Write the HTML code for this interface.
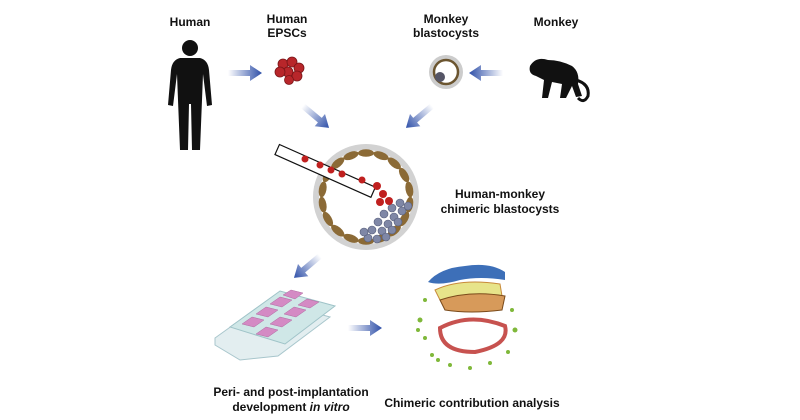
<!DOCTYPE html>
<html><head><style>
body{margin:0;width:800px;height:420px;background:#fff;overflow:hidden;font-family:"Liberation Sans",sans-serif}
svg{position:absolute;left:0;top:0}
text{font-family:"Liberation Sans",sans-serif;font-weight:bold;font-size:12px;fill:#111}
</style></head><body>
<svg width="800" height="420" viewBox="0 0 800 420">
<defs>
<linearGradient id="ga" x1="0" x2="1"><stop offset="0" stop-color="#fff"/><stop offset="1" stop-color="#2e4fa8"/></linearGradient>
<g id="arr"><path d="M0,-3 L22,-3 L22,-8 L34,0 L22,8 L22,3 L0,3Z" fill="url(#ga)"/></g>
</defs>
<text x="190" y="26" text-anchor="middle">Human</text>
<text x="287" y="23" text-anchor="middle">Human</text>
<text x="287" y="37" text-anchor="middle">EPSCs</text>
<text x="446" y="23" text-anchor="middle">Monkey</text>
<text x="446" y="37" text-anchor="middle">blastocysts</text>
<text x="556" y="26" text-anchor="middle">Monkey</text>
<text x="500" y="198" text-anchor="middle">Human-monkey</text>
<text x="500" y="213" text-anchor="middle">chimeric blastocysts</text>
<text x="291" y="396" text-anchor="middle">Peri- and post-implantation</text>
<text x="291" y="411" text-anchor="middle">development <tspan font-style="italic">in vitro</tspan></text>
<text x="472" y="407" text-anchor="middle">Chimeric contribution analysis</text>
<g fill="#111">
<circle cx="190" cy="48" r="8"/>
<path d="M180,58 L200,58 Q208,60 209,70 L212,105 L207,106 L203,74 L202,100 L200,150 L192,150 L191,104 L189,104 L188,150 L180,150 L178,100 L177,74 L173,106 L168,105 L171,70 Q172,60 180,58Z"/>
</g>
<g fill="#b8262a" stroke="#7a1518" stroke-width="0.8">
<circle cx="283" cy="64" r="5"/><circle cx="292" cy="62" r="5"/><circle cx="299" cy="68" r="5"/><circle cx="288" cy="72" r="5"/><circle cx="280" cy="72" r="5"/><circle cx="297" cy="76" r="5"/><circle cx="289" cy="80" r="4.5"/>
</g>
<circle cx="446" cy="72" r="17" fill="#ccc"/>
<circle cx="446" cy="72" r="12" fill="#fff" stroke="#6b5530" stroke-width="2.5"/>
<circle cx="440" cy="77" r="5" fill="#556"/>
<g fill="#111">
<path d="M530,66 Q536,56 548,60 Q560,60 572,66 Q580,72 578,84 L582,96 L576,97 L572,86 L566,98 L560,98 L562,84 L552,82 L548,98 L542,98 L544,80 L536,76 Q528,74 530,66Z"/>
<path d="M576,80 Q590,84 588,96 Q584,104 578,98" fill="none" stroke="#111" stroke-width="3"/>
</g>
<use href="#arr" transform="translate(228,73)"/>
<use href="#arr" transform="translate(503,73) rotate(180)"/>
<use href="#arr" transform="translate(303,106) rotate(40)"/>
<use href="#arr" transform="translate(432,106) rotate(140)"/>
<use href="#arr" transform="translate(320,256) rotate(140)"/>
<use href="#arr" transform="translate(348,328)"/>
<circle cx="366" cy="197" r="53" fill="#d2d2d2"/>
<circle cx="366" cy="197" r="47" fill="#fff"/>
<g fill="#8b6a36">
<g id="ring"><ellipse cx="366" cy="153" rx="8" ry="3.8"/></g>
<use href="#ring" transform="rotate(20 366 197)"/><use href="#ring" transform="rotate(40 366 197)"/><use href="#ring" transform="rotate(60 366 197)"/><use href="#ring" transform="rotate(80 366 197)"/><use href="#ring" transform="rotate(100 366 197)"/><use href="#ring" transform="rotate(120 366 197)"/><use href="#ring" transform="rotate(140 366 197)"/><use href="#ring" transform="rotate(160 366 197)"/><use href="#ring" transform="rotate(180 366 197)"/><use href="#ring" transform="rotate(200 366 197)"/><use href="#ring" transform="rotate(220 366 197)"/><use href="#ring" transform="rotate(240 366 197)"/><use href="#ring" transform="rotate(260 366 197)"/><use href="#ring" transform="rotate(280 366 197)"/><use href="#ring" transform="rotate(300 366 197)"/><use href="#ring" transform="rotate(320 366 197)"/><use href="#ring" transform="rotate(340 366 197)"/>
</g>
<g fill="#7f87a6" stroke="#555c78" stroke-width="0.6">
<circle cx="400" cy="203" r="4"/><circle cx="392" cy="208" r="4"/><circle cx="402" cy="211" r="4"/><circle cx="384" cy="214" r="4"/><circle cx="394" cy="217" r="4"/><circle cx="378" cy="222" r="4"/><circle cx="388" cy="224" r="4"/><circle cx="398" cy="222" r="4"/><circle cx="372" cy="230" r="4"/><circle cx="382" cy="231" r="4"/><circle cx="392" cy="230" r="4"/><circle cx="368" cy="238" r="4"/><circle cx="377" cy="239" r="4"/><circle cx="386" cy="237" r="4"/><circle cx="408" cy="206" r="4"/><circle cx="364" cy="232" r="4"/>
</g>
<g transform="rotate(24 277 150)">
<rect x="277" y="144" width="105" height="11" fill="#fff" stroke="#111" stroke-width="1.2"/>
</g>
<g fill="#c0201f">
<circle cx="305" cy="159" r="3.5"/><circle cx="320" cy="165" r="3.5"/><circle cx="331" cy="170" r="3.5"/><circle cx="342" cy="174" r="3.5"/><circle cx="362" cy="180" r="3.5"/>
<circle cx="377" cy="186" r="4"/><circle cx="383" cy="194" r="4"/><circle cx="380" cy="202" r="4"/><circle cx="389" cy="201" r="4"/>
</g>
<polygon points="215,338 268,300 330,317 278,356 240,360 215,345" fill="#e3eef0" stroke="#a8c6cc"/>
<polygon points="230,327 280,291 335,306 285,344" fill="#cfe7e7" stroke="#9fc3c8"/>
<g fill="#d48ac4" stroke="#b06aa0" stroke-width="0.5">
<polygon points="242,324 252,317 264,320 254,327"/><polygon points="256,314 266,307 278,310 268,317"/><polygon points="270,304 280,297 292,300 282,307"/><polygon points="283,295 291,290 303,293 295,299"/>
<polygon points="256,334 266,327 278,330 268,337"/><polygon points="270,324 280,317 292,320 282,327"/><polygon points="284,314 294,307 306,310 296,317"/><polygon points="298,305 307,299 319,302 310,308"/>
</g>
<path d="M428,282 Q440,268 465,266 Q490,262 505,272 L505,280 Q480,276 460,280 Q440,286 428,282Z" fill="#3d6fb8"/>
<path d="M435,290 Q460,278 500,284 L502,296 Q470,300 440,300Z" fill="#e7e48a" stroke="#c88a3a"/>
<path d="M440,300 Q470,290 505,296 L502,310 Q470,314 445,310Z" fill="#d79a5a" stroke="#7a4a1a"/>
<path d="M440,328 Q470,312 505,326 Q510,345 475,352 Q440,352 440,328Z" fill="none" stroke="#c7524f" stroke-width="4"/>
<g fill="#7fb83a">
<circle cx="425" cy="300" r="2"/><circle cx="420" cy="320" r="2.5"/><circle cx="425" cy="338" r="2"/><circle cx="432" cy="355" r="2"/><circle cx="450" cy="365" r="2"/><circle cx="470" cy="368" r="2"/><circle cx="490" cy="363" r="2"/><circle cx="508" cy="352" r="2"/><circle cx="515" cy="330" r="2.5"/><circle cx="512" cy="310" r="2"/><circle cx="438" cy="360" r="2"/><circle cx="418" cy="330" r="2"/>
</g>
</svg>
</body></html>
